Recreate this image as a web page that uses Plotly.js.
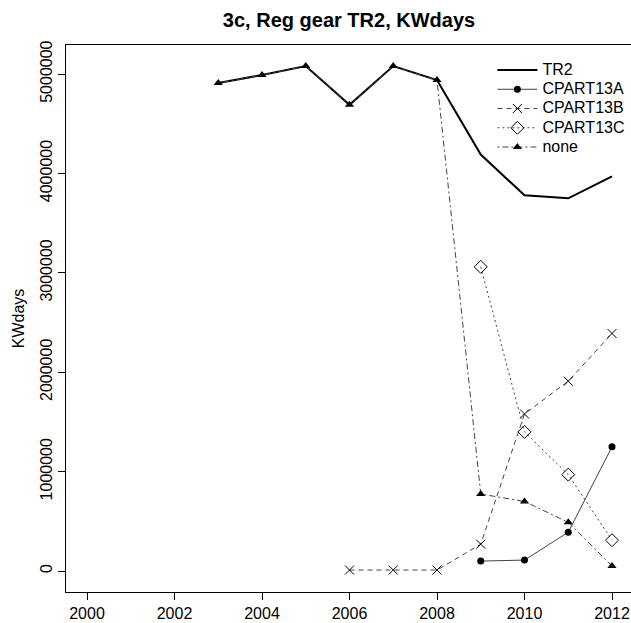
<!DOCTYPE html>
<html>
<head>
<meta charset="utf-8">
<script src="https://cdn.plot.ly/plotly-3.0.1.min.js"></script>
<style>
html,body{margin:0;padding:0;overflow:hidden;background:#fff;}
#chart{width:640px;height:623px;}
</style>
</head>
<body>
<div id="chart"></div>
<script>
const seriesNames = ['TR2','CPART13A','CPART13B','CPART13C','none'];

const yearsTR2 = [2003,2004,2005,2006,2007,2008,2009,2010,2011,2012];
const valsTR2 = [4910000,4990000,5080000,4690000,5080000,4940000,4190000,3780000,3750000,3970000];

const yearsA = [2009,2010,2011,2012];
const valsA = [100000,110000,390000,1250000];

const yearsB = [2006,2007,2008,2009,2010,2011,2012];
const valsB = [10000,10000,10000,270000,1580000,1910000,2390000];

const yearsC = [2009,2010,2011,2012];
const valsC = [3060000,1400000,970000,310000];

const yearsNone = [2003,2004,2005,2006,2007,2008,2009,2010,2011,2012];
const valsNone = [4910000,4990000,5080000,4690000,5080000,4940000,775000,700000,490000,50000];

const xTicks = [2000,2002,2004,2006,2008,2010,2012];
const yTicks = [0,1000000,2000000,3000000,4000000,5000000];

const font = "Liberation Sans, Arial, sans-serif";
const lg = n => '<span style="font-size:16px">' + n + '</span>';

const traces = [
  {x: yearsTR2, y: valsTR2, name: lg(seriesNames[0]), mode: 'lines',
   line: {color: '#000', width: 2}},
  {x: yearsA, y: valsA, name: lg(seriesNames[1]), mode: 'lines+markers',
   line: {color: '#444', width: 1}, marker: {symbol: 'circle', size: 7, color: '#000'}},
  {x: yearsB, y: valsB, name: lg(seriesNames[2]), mode: 'lines+markers',
   line: {color: '#444', width: 1, dash: '5px,4px'},
   marker: {symbol: 'x-thin-open', size: 9, color: '#000', line: {color: '#222', width: 1}}},
  {x: yearsC, y: valsC, name: lg(seriesNames[3]), mode: 'lines+markers',
   line: {color: '#444', width: 1, dash: '2px,3px'},
   marker: {symbol: 'diamond-open', size: 10, color: '#000', line: {color: '#222', width: 1}}},
  {x: yearsNone, y: valsNone, name: lg(seriesNames[4]), mode: 'lines+markers',
   line: {color: '#444', width: 1, dash: '2px,3px,6px,3px'},
   marker: {symbol: 'triangle-up', size: 8, color: '#000'}}
];

const layout = {
  width: 640, height: 623,
  margin: {l: 66, r: 7, t: 45, b: 31},
  paper_bgcolor: '#fff', plot_bgcolor: '#fff',
  font: {family: font, size: 16, color: '#000'},
  title: {text: '<b>3c, Reg gear TR2, KWdays</b>', font: {family: font, size: 20, color: '#000'},
          x: 349/640, xanchor: 'center', y: 1 - 20/623, yanchor: 'middle'},
  showlegend: true,
  legend: {x: 0.752, y: 0.981, xanchor: 'left', yanchor: 'top', bgcolor: 'rgba(0,0,0,0)',
           font: {family: font, size: 12.5, color: '#000'}, tracegroupgap: 0, itemwidth: 40},
  xaxis: {range: [1999.52, 2012.48], tickvals: xTicks, ticktext: xTicks.map(String),
          showgrid: false, zeroline: false, showline: true, linecolor: '#000', linewidth: 1,
          mirror: true, ticks: 'outside', ticklen: 7, tickcolor: '#000',
          tickfont: {family: font, size: 16, color: '#000'}},
  yaxis: {range: [-211000, 5292000], tickvals: yTicks, ticktext: yTicks.map(String),
          tickangle: -90, showgrid: false, zeroline: false, showline: true, linecolor: '#000', linewidth: 1,
          mirror: true, ticks: 'outside', ticklen: 7, tickcolor: '#000',
          tickfont: {family: font, size: 16, color: '#000'},
          title: {text: 'KWdays', font: {family: font, size: 16, color: '#000'}, standoff: 8}}
};

Plotly.newPlot('chart', traces, layout, {displayModeBar: false, staticPlot: true});
</script>
</body>
</html>
